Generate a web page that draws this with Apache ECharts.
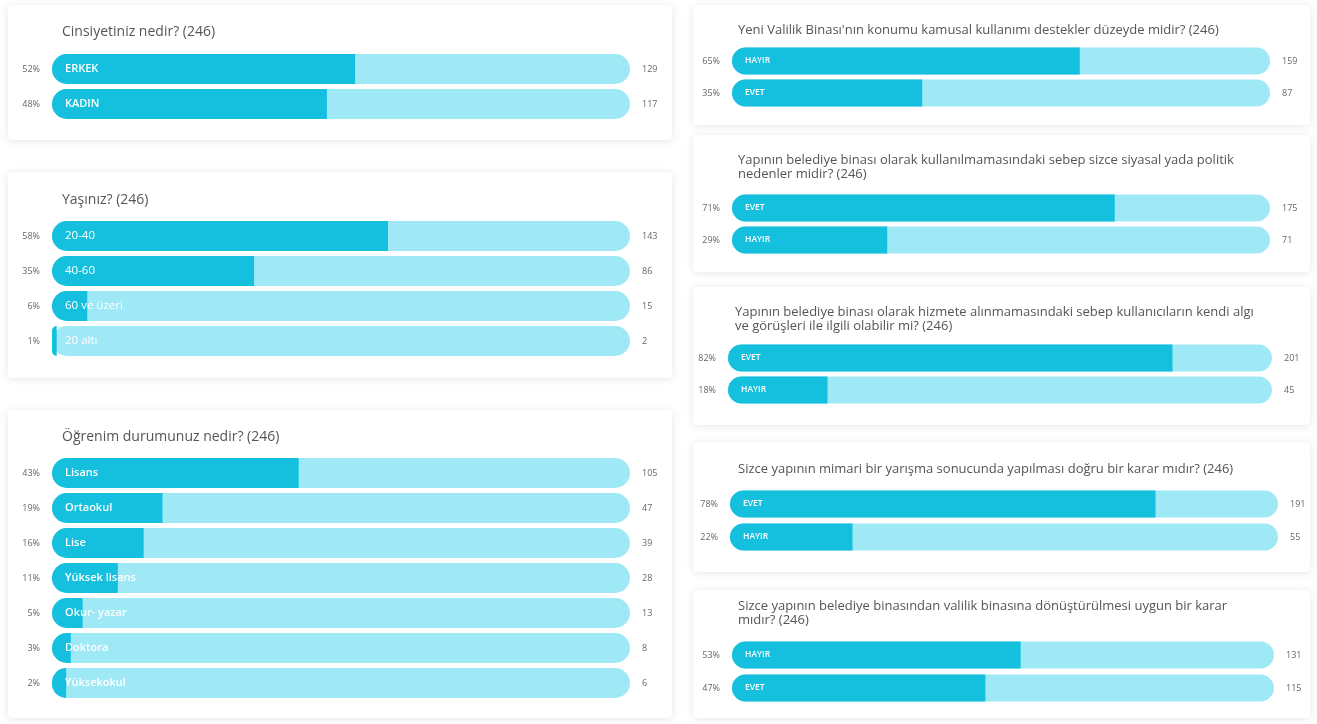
<!DOCTYPE html>
<html>
<head>
<meta charset="utf-8">
<script src="https://cdn.jsdelivr.net/npm/echarts@6/dist/echarts.min.js"></script>
<style>
html,body{margin:0;padding:0;background:#fff;}
#c{width:1317px;height:724px;}
</style>
</head>
<body>
<div id="c"></div>
<script>
const TOTAL = 246;

const p1Title = 'Cinsiyetiniz nedir? (246)';
const p1Names = ['ERKEK', 'KADIN'];
const p1Counts = [129, 117];
const p1Pct = [52, 48];

const p2Title = 'Yaşınız? (246)';
const p2Names = ['20-40', '40-60', '60 ve üzeri', '20 altı'];
const p2Counts = [143, 86, 15, 2];
const p2Pct = [58, 35, 6, 1];

const p3Title = 'Öğrenim durumunuz nedir? (246)';
const p3Names = ['Lisans', 'Ortaokul', 'Lise', 'Yüksek lisans', 'Okur- yazar', 'Doktora', 'Yüksekokul'];
const p3Counts = [105, 47, 39, 28, 13, 8, 6];
const p3Pct = [43, 19, 16, 11, 5, 3, 2];

const p4Title = "Yeni Valilik Binası'nın konumu kamusal kullanımı destekler düzeyde midir? (246)";
const p4Names = ['HAYIR', 'EVET'];
const p4Counts = [159, 87];
const p4Pct = [65, 35];

const p5Title = 'Yapının belediye binası olarak kullanılmamasındaki sebep sizce siyasal yada politik\nnedenler midir? (246)';
const p5Names = ['EVET', 'HAYIR'];
const p5Counts = [175, 71];
const p5Pct = [71, 29];

const p6Title = 'Yapının belediye binası olarak hizmete alınmamasındaki sebep kullanıcıların kendi algı\nve görüşleri ile ilgili olabilir mi? (246)';
const p6Names = ['EVET', 'HAYIR'];
const p6Counts = [201, 45];
const p6Pct = [82, 18];

const p7Title = 'Sizce yapının mimari bir yarışma sonucunda yapılması doğru bir karar mıdır? (246)';
const p7Names = ['EVET', 'HAYIR'];
const p7Counts = [191, 55];
const p7Pct = [78, 22];

const p8Title = 'Sizce yapının belediye binasından valilik binasına dönüştürülmesi uygun bir karar\nmıdır? (246)';
const p8Names = ['HAYIR', 'EVET'];
const p8Counts = [131, 115];
const p8Pct = [53, 47];

const panels = [
  {title:p1Title, names:p1Names, counts:p1Counts, pct:p1Pct},
  {title:p2Title, names:p2Names, counts:p2Counts, pct:p2Pct},
  {title:p3Title, names:p3Names, counts:p3Counts, pct:p3Pct},
  {title:p4Title, names:p4Names, counts:p4Counts, pct:p4Pct},
  {title:p5Title, names:p5Names, counts:p5Counts, pct:p5Pct},
  {title:p6Title, names:p6Names, counts:p6Counts, pct:p6Pct},
  {title:p7Title, names:p7Names, counts:p7Counts, pct:p7Pct},
  {title:p8Title, names:p8Names, counts:p8Counts, pct:p8Pct}
];

// layout (positions / styles only)
const layout = [
  {card:[8,5,664,135],   tx:62,  ty:24,  tfs:14, tlh:16, l:52,  r:630,  c0:69,  sp:35, bw:30, lfs:11, lfw:600},
  {card:[8,172,664,206], tx:62,  ty:192, tfs:14, tlh:16, l:52,  r:630,  c0:236, sp:35, bw:30, lfs:11.5, lfw:400},
  {card:[8,410,664,308], tx:62,  ty:429, tfs:14, tlh:16, l:52,  r:630,  c0:473, sp:35, bw:30, lfs:11, lfw:600},
  {card:[693,5,617,120], tx:738, ty:23,  tfs:13, tlh:14, l:732, r:1270, c0:61,  sp:32, bw:27, lfs:8.5, lfw:600},
  {card:[693,135,617,137], tx:738, ty:153, tfs:13, tlh:14, l:732, r:1270, c0:208, sp:32, bw:27, lfs:8.5, lfw:600},
  {card:[693,287,617,138], tx:735, ty:305, tfs:13, tlh:14, l:728, r:1272, c0:358, sp:32, bw:27, lfs:8.5, lfw:600},
  {card:[693,442,617,130], tx:738, ty:462, tfs:13, tlh:14, l:730, r:1278, c0:504, sp:33, bw:27, lfs:8.5, lfw:600},
  {card:[693,590,617,128], tx:738, ty:599, tfs:13, tlh:14, l:732, r:1274, c0:655, sp:33, bw:27, lfs:8.5, lfw:600}
];

const FILL = '#14c0de';
const TRACK = '#9fe8f6';
const FONT = 'Open Sans';

const titles = [], grids = [], xAxes = [], yAxes = [], series = [], graphics = [];

panels.forEach((p, i) => {
  const L = layout[i];
  graphics.push({
    type:'rect', z:-10,
    shape:{x:L.card[0], y:L.card[1], width:L.card[2], height:L.card[3], r:4},
    style:{fill:'#fff', shadowBlur:8, shadowColor:'rgba(0,0,0,0.10)', shadowOffsetY:1}
  });
  titles.push({
    text:p.title, left:L.tx, top:L.ty, padding:0,
    textStyle:{fontFamily:FONT, fontSize:L.tfs, fontWeight:400, color:'#555', lineHeight:L.tlh}
  });
  const n = p.names.length;
  grids.push({left:L.l, width:L.r - L.l, top:L.c0 - L.sp/2, height:n*L.sp});
  xAxes.push({gridIndex:i, type:'value', min:0, max:TOTAL, show:false});
  yAxes.push({
    gridIndex:i, type:'category', data:p.names, inverse:true,
    axisLine:{show:false}, axisTick:{show:false}, splitLine:{show:false},
    axisLabel:{margin:12, fontFamily:FONT, fontSize:9, color:'#666',
      formatter:(v, idx) => p.pct[idx] + '%'}
  });
  yAxes.push({
    gridIndex:i, type:'category', data:p.names, inverse:true, position:'right',
    axisLine:{show:false}, axisTick:{show:false}, splitLine:{show:false},
    axisLabel:{margin:12, fontFamily:FONT, fontSize:9, color:'#666', align:'left',
      formatter:(v, idx) => String(p.counts[idx])}
  });
  series.push({
    type:'bar', xAxisIndex:i, yAxisIndex:2*i,
    data:p.counts, barWidth:L.bw,
    showBackground:true,
    backgroundStyle:{color:TRACK, borderRadius:L.bw/2},
    itemStyle:{color:FILL, borderRadius:[L.bw/2,0,0,L.bw/2]},
    label:{show:true, position:'insideLeft', distance:13, formatter:'{b}',
      color:'#fff', fontFamily:FONT, fontSize:L.lfs, fontWeight:L.lfw},
    silent:true, animation:false
  });
});

const chart = echarts.init(document.getElementById('c'));
chart.setOption({
  backgroundColor:'#fff',
  animation:false,
  title:titles,
  grid:grids,
  xAxis:xAxes,
  yAxis:yAxes,
  series:series,
  graphic:graphics
});
</script>
</body>
</html>
